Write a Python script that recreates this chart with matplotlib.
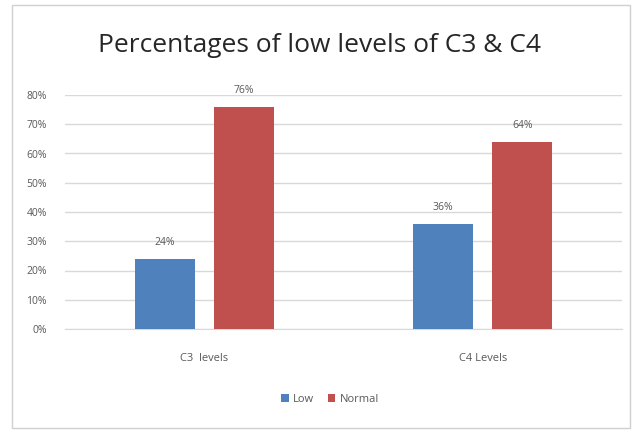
import matplotlib
matplotlib.use("Agg")
import matplotlib.pyplot as plt
import numpy as np
from matplotlib.patches import Rectangle

# chart data
categories = ["C3  levels", "C4 Levels"]
series_names = ["Low", "Normal"]
low_values = [24, 36]
normal_values = [76, 64]
y_ticks = [0, 10, 20, 30, 40, 50, 60, 70, 80]

blue = "#4F81BD"
red = "#C0504D"
text_gray = "#595959"
grid_gray = "#D9D9D9"

plt.rcParams['font.family'] = ['Open Sans', 'DejaVu Sans']

fig = plt.figure(figsize=(6.39, 4.32), dpi=100)
fig.patch.set_facecolor("white")

# outer chart frame
fig.add_artist(Rectangle((12 / 639, 4 / 432), 618 / 639, 423 / 432,
                         transform=fig.transFigure, fill=False,
                         edgecolor="#D0D0D0", linewidth=1.0))

ax = fig.add_axes([65 / 639, 1 - 329 / 432, 557 / 639, 234 / 432])

x = np.arange(len(categories))
width = 0.215
offset = 0.142
bars_low = ax.bar(x - offset, low_values, width, color=blue, label=series_names[0], zorder=3)
bars_norm = ax.bar(x + offset, normal_values, width, color=red, label=series_names[1], zorder=3)

for bars, vals in ((bars_low, low_values), (bars_norm, normal_values)):
    for b, v in zip(bars, vals):
        ax.text(b.get_x() + b.get_width() / 2, v + 3.8, f"{v}%", ha="center", va="bottom",
                fontsize=7.5, color=text_gray)

ax.set_xlim(-0.5, 1.5)
ax.set_ylim(0, 80)
ax.set_yticks(y_ticks)
ax.set_yticklabels([f"{t}%" for t in y_ticks], fontsize=7.5, color=text_gray)
ax.set_xticks(x)
ax.set_xticklabels(categories, fontsize=8, color=text_gray)
ax.tick_params(axis="both", length=0)
ax.tick_params(axis="y", pad=13)
ax.tick_params(axis="x", pad=17)

ax.grid(axis="y", color=grid_gray, linewidth=1.0, zorder=0)
for side in ("top", "right", "left"):
    ax.spines[side].set_visible(False)
ax.spines["bottom"].set_color(grid_gray)

fig.text(320 / 639, 1 - 45 / 432, "Percentages of low levels of C3 & C4",
         ha="center", va="center", fontsize=19, color="#262626")

fig.legend(handles=[bars_low, bars_norm], labels=series_names, loc="center",
           bbox_to_anchor=(330 / 639, 1 - 399 / 432), ncol=2, frameon=False,
           fontsize=8, handlelength=0.7, handleheight=0.7, handletextpad=0.4,
           columnspacing=1.2, labelcolor=text_gray)

fig.savefig("out.png", dpi=100)
